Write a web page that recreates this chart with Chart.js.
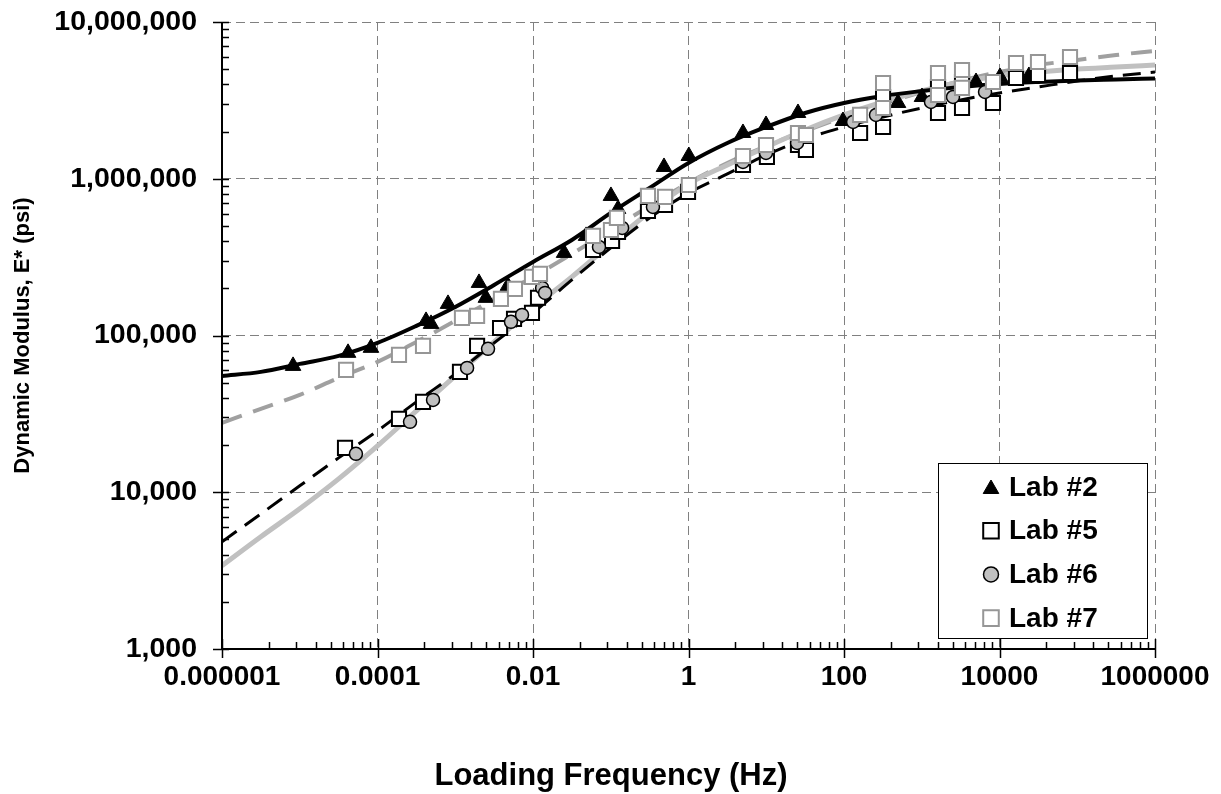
<!DOCTYPE html>
<html>
<head>
<meta charset="utf-8">
<script src="https://cdn.jsdelivr.net/npm/chart.js@4.4.0/dist/chart.umd.min.js"></script>
<style>
html,body{margin:0;padding:0;background:#fff;}
#wrap{position:relative;width:1221px;height:794px;}
</style>
</head>
<body>
<div id="wrap"><canvas id="c" width="1221" height="794"></canvas></div>
<script>
// ---------- axis ticks ----------
const xTickValues = [0.000001, 0.0001, 0.01, 1, 100, 10000, 1000000];
const xTickLabels = ['0.000001', '0.0001', '0.01', '1', '100', '10000', '1000000'];
const yTickValues = [1000, 10000, 100000, 1000000, 10000000];
const yTickLabels = ['1,000', '10,000', '100,000', '1,000,000', '10,000,000'];
const xMinorFactors = [4, 9, 16, 25, 36, 49, 64, 81];
const yMinorFactors = [2, 3, 4, 5, 6, 7, 8, 9];
const xTitle = 'Loading Frequency (Hz)';
const yTitle = 'Dynamic Modulus, E* (psi)';

// ---------- measured points ----------
const lab2Freq = [0.0000082, 0.0000418, 0.0000824, 0.000421, 0.000488, 0.000807, 0.00202, 0.00248, 0.00476, 0.0251, 0.0481, 0.1006, 0.124, 0.484, 1.01, 5.02, 9.93, 25.6, 97, 495, 1007, 4990, 10140, 23900];
const lab2Mod  = [64000, 77500, 83400, 123900, 118600, 159100, 216500, 173800, 207200, 336400, 431900, 776700, 641600, 1189000, 1397000, 1959000, 2203000, 2628000, 2336000, 3044000, 3324000, 4143000, 4460000, 4525000];

const lab5Freq = [0.0000382, 0.000189, 0.000385, 0.00115, 0.00191, 0.00377, 0.0057, 0.0097, 0.0116, 0.0592, 0.104, 0.124, 0.301, 0.499, 0.986, 5.02, 10.2, 25.6, 32.4, 161, 318, 318, 1618, 1618, 3296, 3296, 8241, 16300, 31270, 80720];
const lab5Mod  = [19190, 29380, 37740, 58600, 85850, 111700, 127600, 139300, 174000, 351400, 401000, 458000, 623000, 680000, 824000, 1225000, 1377000, 1643000, 1526000, 1959000, 2140000, 3324000, 2628000, 3850000, 2829000, 4143000, 3044000, 4395000, 4591000, 4727000];

const lab6Freq = [0.0000528, 0.000262, 0.000518, 0.00142, 0.00264, 0.00521, 0.00723, 0.0131, 0.0143, 0.0706, 0.140, 0.349, 5.02, 9.93, 24.9, 131, 258, 1315, 2523, 6516];
const lab6Mod  = [17580, 28120, 38830, 62120, 82170, 122200, 135300, 201200, 187000, 367300, 485700, 661000, 1280000, 1461000, 1691000, 2303000, 2553000, 3089000, 3324000, 3578000];

const lab7Freq = [0.0000394, 0.000189, 0.000385, 0.00122, 0.00191, 0.00387, 0.00586, 0.0097, 0.0123, 0.0592, 0.1006, 0.120, 0.301, 0.499, 1.01, 5.02, 9.93, 25.6, 32.4, 161, 318, 318, 1618, 1618, 3296, 3296, 8241, 16300, 31270, 80720];
const lab7Mod  = [60360, 75230, 85850, 129500, 133400, 171100, 198200, 236500, 247200, 432000, 471000, 562300, 777000, 765600, 912500, 1397000, 1643000, 1959000, 1903000, 2553000, 2829000, 4083000, 3423000, 4727000, 3796000, 4940000, 4143000, 5478000, 5559000, 5980000];

// ---------- fitted master curves (read at half-decade frequencies) ----------
const fitFreq = [0.000001, 0.00000316, 0.00001, 0.0000316, 0.0001, 0.000316, 0.001, 0.00316, 0.01, 0.0316, 0.1, 0.316, 1, 3.16, 10, 31.6, 100, 316, 1000, 3160, 10000, 31600, 100000, 316000, 1000000];
const lab2Fit = [55200, 58600, 65900, 74100, 89700, 115200, 152200, 210200, 294600, 407000, 605000, 873000, 1261000, 1691000, 2140000, 2628000, 3044000, 3374000, 3630000, 3850000, 4025000, 4143000, 4236000, 4300000, 4362000];
const lab5Fit = [4830, 7280, 10990, 16570, 24640, 37740, 56890, 89700, 139300, 226200, 362000, 562300, 811000, 1073000, 1418000, 1794000, 2140000, 2478000, 2829000, 3182000, 3526000, 3850000, 4206000, 4525000, 4800000];
const lab6Fit = [3400, 5200, 7840, 12170, 19770, 33040, 55200, 91000, 150000, 236500, 383700, 614000, 926000, 1225000, 1596000, 2047000, 2553000, 3089000, 3630000, 4143000, 4525000, 4800000, 5012000, 5163000, 5318000];
const lab7Fit = [27730, 34040, 41790, 53700, 67900, 91000, 123900, 171100, 236500, 331300, 471000, 671000, 940000, 1261000, 1618000, 2018000, 2478000, 3000000, 3578000, 4206000, 4800000, 5318000, 5722000, 6160000, 6530000];

const seriesLabels = ['Lab #2', 'Lab #5', 'Lab #6', 'Lab #7'];

const pts = (xs, ys) => xs.map((x, i) => ({x: x, y: ys[i]}));
const FONT = 'Liberation Sans, Arial, Helvetica, sans-serif';

const markerDefs = [
  {pointStyle: 'triangle', radius: 9, fill: '#000000', stroke: '#000000', bw: 1},
  {pointStyle: 'rect', radius: 10, fill: '#ffffff', stroke: '#000000', bw: 2},
  {pointStyle: 'circle', radius: 6.5, fill: '#c0c0c0', stroke: '#000000', bw: 1.5},
  {pointStyle: 'rect', radius: 10, fill: '#ffffff', stroke: '#969696', bw: 2}
];
const markerData = [pts(lab2Freq, lab2Mod), pts(lab5Freq, lab5Mod), pts(lab6Freq, lab6Mod), pts(lab7Freq, lab7Mod)];
const markerOrder = [4, 3, 2, 1];

const datasets = [];
markerData.forEach((d, i) => {
  const m = markerDefs[i];
  datasets.push({
    label: seriesLabels[i], data: d, showLine: false, order: markerOrder[i],
    pointStyle: m.pointStyle, pointRadius: m.radius, pointBackgroundColor: m.fill,
    pointBorderColor: m.stroke, pointBorderWidth: m.bw, pointHoverRadius: m.radius
  });
});
const fitDefs = [
  {data: lab2Fit, color: '#000000', width: 4, dash: []},
  {data: lab5Fit, color: '#000000', width: 3, dash: [18, 10]},
  {data: lab6Fit, color: '#c0c0c0', width: 5, dash: []},
  {data: lab7Fit, color: '#a0a0a0', width: 4, dash: [21, 12]}
];
fitDefs.forEach((f, i) => {
  datasets.push({
    label: seriesLabels[i] + ' fit', data: pts(fitFreq, f.data), showLine: true, order: 10 + i,
    borderColor: f.color, borderWidth: f.width, borderDash: f.dash, pointRadius: 0,
    cubicInterpolationMode: 'monotone', fill: false
  });
});

const axisPlugin = {
  id: 'axisDecor',
  afterDraw(chart) {
    const {ctx, chartArea: a, scales: {x, y}} = chart;
    ctx.save();
    ctx.strokeStyle = '#000';
    ctx.lineWidth = 2;
    ctx.beginPath();
    ctx.moveTo(a.left, a.top); ctx.lineTo(a.left, a.bottom);
    ctx.moveTo(a.left, a.bottom); ctx.lineTo(a.right, a.bottom);
    ctx.stroke();
    ctx.lineWidth = 1.5;
    ctx.beginPath();
    yTickValues.forEach((v, i) => {
      const py = Math.round(y.getPixelForValue(v)) + 0.5;
      ctx.moveTo(a.left - 9, py); ctx.lineTo(a.left + 7, py);
      if (i < yTickValues.length - 1) {
        yMinorFactors.forEach(k => {
          const my = Math.round(y.getPixelForValue(v * k)) + 0.5;
          ctx.moveTo(a.left, my); ctx.lineTo(a.left + 7, my);
        });
      }
    });
    xTickValues.forEach((v, i) => {
      const px = Math.round(x.getPixelForValue(v)) + 0.5;
      ctx.moveTo(px, a.bottom - 10); ctx.lineTo(px, a.bottom + 9);
      if (i < xTickValues.length - 1) {
        xMinorFactors.forEach(k => {
          const mx = Math.round(x.getPixelForValue(v * k)) + 0.5;
          ctx.moveTo(mx, a.bottom - 7); ctx.lineTo(mx, a.bottom);
        });
      }
    });
    ctx.stroke();

    // x axis title
    ctx.fillStyle = '#000';
    ctx.font = 'bold 31px ' + FONT;
    ctx.textAlign = 'center';
    ctx.textBaseline = 'middle';
    ctx.fillText(xTitle, 611, 776);

    // legend box
    const w = 209, h = 175;
    const x0 = a.right - 8 - w, y0 = a.bottom - 11 - h;
    ctx.fillStyle = '#fff';
    ctx.fillRect(x0, y0, w, h);
    ctx.strokeStyle = '#000';
    ctx.lineWidth = 1;
    ctx.strokeRect(x0 + 0.5, y0 + 0.5, w, h);
    const legendRadius = [9, 11, 7.5, 11];
    seriesLabels.forEach((lab, i) => {
      const m = markerDefs[i];
      const cy = y0 + 24 + i * 43.7;
      ctx.fillStyle = m.fill;
      ctx.strokeStyle = m.stroke;
      ctx.lineWidth = m.bw;
      Chart.helpers.drawPoint(ctx, {pointStyle: m.pointStyle, radius: legendRadius[i], rotation: 0, borderWidth: m.bw}, x0 + 53, cy + (i === 0 ? 2 : 0));
      ctx.fillStyle = '#000';
      ctx.font = 'bold 28px ' + FONT;
      ctx.textAlign = 'left';
      ctx.textBaseline = 'middle';
      ctx.fillText(lab, x0 + 71, cy + 1);
    });
    ctx.restore();
  }
};

new Chart(document.getElementById('c'), {
  type: 'scatter',
  data: {datasets: datasets},
  options: {
    responsive: false,
    animation: false,
    events: [],
    layout: {padding: {left: 0, top: 22, right: 66, bottom: 0}},
    plugins: {legend: {display: false}, tooltip: {enabled: false}, title: {display: false}},
    scales: {
      x: {
        type: 'logarithmic', min: 0.000001, max: 1000000, position: 'bottom',
        afterBuildTicks: (s) => { s.ticks = xTickValues.map(v => ({value: v})); },
        afterFit: (s) => { s.height = 145; s.paddingLeft = 0; s.paddingRight = 0; },
        ticks: {
          autoSkip: false, maxRotation: 0, minRotation: 0, padding: 11, color: '#000',
          font: {family: FONT, size: 28, weight: 'bold'},
          callback: (v, i) => xTickLabels[i]
        },
        grid: {color: '#808080', lineWidth: 1, drawTicks: false},
        border: {display: false, dash: [9, 5]},
        title: {display: false}
      },
      y: {
        type: 'logarithmic', min: 1000, max: 10000000, position: 'left',
        afterBuildTicks: (s) => { s.ticks = yTickValues.map(v => ({value: v})); },
        afterFit: (s) => { s.width = 222; s.paddingTop = 0; s.paddingBottom = 0; },
        ticks: {
          autoSkip: false, padding: 25, color: '#000',
          font: {family: FONT, size: 28.5, weight: 'bold'},
          callback: (v, i) => yTickLabels[i]
        },
        grid: {color: '#808080', lineWidth: 1, drawTicks: false},
        border: {display: false, dash: [9, 5]},
        title: {
          display: true, text: yTitle, color: '#000',
          font: {family: FONT, size: 22, weight: 'bold'},
          padding: {top: 10, bottom: 0}
        }
      }
    }
  },
  plugins: [axisPlugin]
});
</script>
</body>
</html>
